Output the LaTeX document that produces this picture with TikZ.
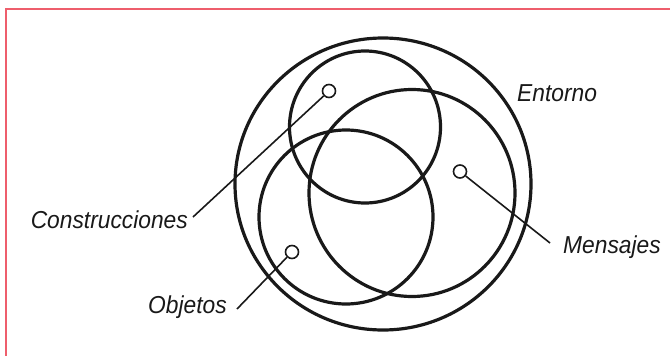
\documentclass[tikz,border=0pt]{standalone}
\usepackage{fontspec}
\setmainfont{Liberation Sans}
\newfontfamily\lblfont[FakeStretch=0.93]{Liberation Sans}
\definecolor{framered}{HTML}{EE5E6C}
\begin{document}
\begin{tikzpicture}[x=1pt,y=-1pt,
  ring/.style={draw=black!90,line width=3.2pt},
  marker/.style={circle,draw=black!90,fill=white,line width=1.6pt,minimum size=13pt,inner sep=0pt},
  leader/.style={draw=black!90,line width=1.6pt},
  lbl/.style={font=\lblfont\fontsize{24.5}{29}\selectfont\itshape,text=black!90,inner sep=0pt}]
\useasboundingbox (0,0) rectangle (670,356);
\draw[framered,line width=1.4pt] (670,9) -- (6,9) -- (6,356);
% sets
\draw[ring] (383,184) ellipse [x radius=148, y radius=146];
\draw[ring] (365,127) ellipse [x radius=75.5, y radius=76];
\draw[ring] (412,193) ellipse [x radius=103, y radius=103.5];
\draw[ring] (346,217) ellipse [x radius=87, y radius=87];
% labels
\node[lbl,anchor=base east] (lc) at (188,228) {Construcciones};
\node[lbl,anchor=base west] (le) at (517,101) {Entorno};
\node[lbl,anchor=base west] (lm) at (563,253) {Mensajes};
\node[lbl,anchor=base west] (lo) at (148,313) {Objetos};
% markers and leaders
\coordinate (ce) at (193,217);
\coordinate (me) at (550,243);
\coordinate (oe) at (237,309);
\node[marker] (mc) at (329,91) {};
\node[marker] (mm) at (460,171.5) {};
\node[marker] (mo) at (292,252) {};
\draw[leader] (mc) -- (ce);
\draw[leader] (mm) -- (me);
\draw[leader] (mo) -- (oe);
\end{tikzpicture}
\end{document}
